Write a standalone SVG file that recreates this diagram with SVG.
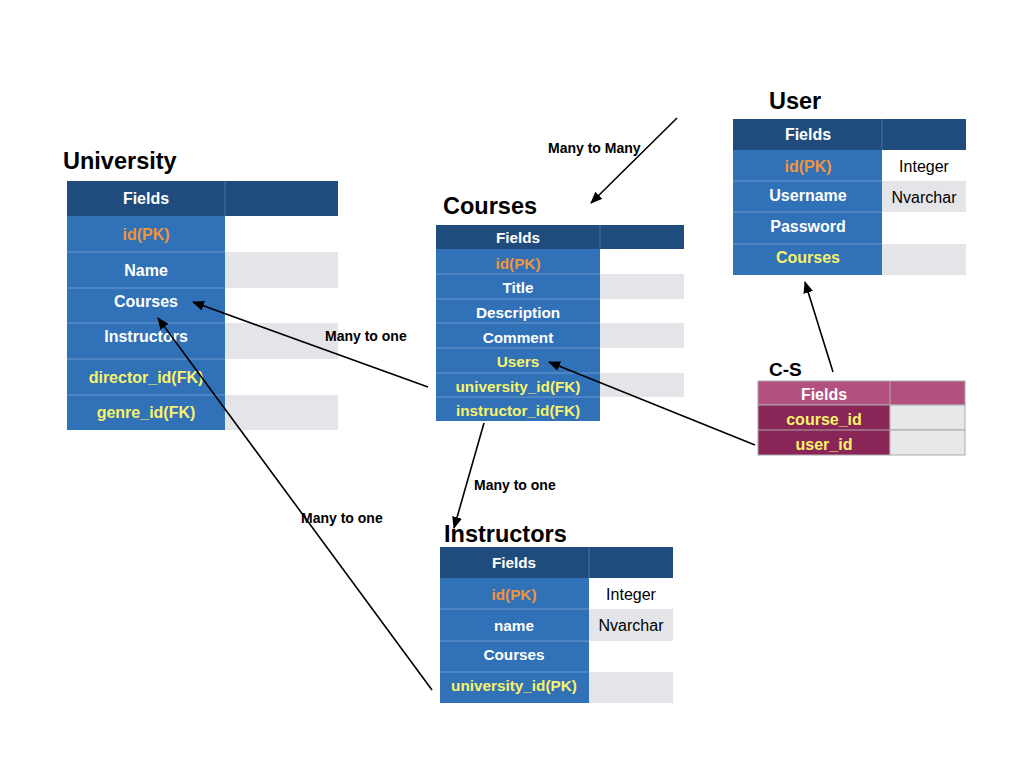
<svg xmlns="http://www.w3.org/2000/svg" width="1024" height="768" viewBox="0 0 1024 768">
<defs>
<marker id="ah" markerWidth="12" markerHeight="10" refX="11" refY="5" orient="auto" markerUnits="userSpaceOnUse">
<path d="M0,0 L12,5 L0,10 Z" fill="#000"/>
</marker>
<style>
.hd{fill:#1f4c7d}
.bd{fill:#3071b7}
.w{fill:#ffffff}
.g{fill:#e4e5e9}
.sep{stroke:#6a9bd0;stroke-width:1}
.hsep{stroke:#4a74a4;stroke-width:1}
.t{font-family:"Liberation Sans",Arial,sans-serif;font-weight:bold;fill:#ffffff;text-anchor:middle;font-size:16px}
.s{font-size:15.3px}
.y{fill:#f7f36b}
.o{fill:#f0953a}
.d{font-family:"Liberation Sans",Arial,sans-serif;fill:#000;text-anchor:middle;font-size:16px}
.title{font-family:"Liberation Sans",Arial,sans-serif;font-weight:bold;fill:#000;font-size:23.5px}
.lbl{font-family:"Liberation Sans",Arial,sans-serif;font-weight:bold;fill:#000;font-size:14px}
.ln{stroke:#000;stroke-width:1.6;fill:none;marker-end:url(#ah)}
.phd{fill:#b3507f}
.pbd{fill:#8a2558}
.pg{fill:#e8e8e8;stroke:#aaaaaa;stroke-width:1}
</style>
</defs>

<g id="university">
<text class="title" x="63" y="169">University</text>
<rect class="hd" x="67" y="181" width="271" height="35"/>
<line class="hsep" x1="225" y1="181" x2="225" y2="216"/>
<rect class="bd" x="67" y="216" width="158" height="214"/>
<rect class="w" x="225" y="216" width="113" height="36"/>
<rect class="g" x="225" y="252" width="113" height="36"/>
<rect class="w" x="225" y="288" width="113" height="35"/>
<rect class="g" x="225" y="323" width="113" height="36"/>
<rect class="w" x="225" y="359" width="113" height="36"/>
<rect class="g" x="225" y="395" width="113" height="35"/>
<line class="sep" x1="67" y1="252" x2="225" y2="252"/>
<line class="sep" x1="67" y1="288" x2="225" y2="288"/>
<line class="sep" x1="67" y1="323" x2="225" y2="323"/>
<line class="sep" x1="67" y1="359" x2="225" y2="359"/>
<line class="sep" x1="67" y1="395" x2="225" y2="395"/>
<text class="t" x="146" y="204">Fields</text>
<text class="t o" x="146" y="240">id(PK)</text>
<text class="t" x="146" y="276">Name</text>
<text class="t" x="146" y="307">Courses</text>
<text class="t" x="146" y="342">Instructors</text>
<text class="t y" x="146" y="383">director_id(FK)</text>
<text class="t y" x="146" y="418">genre_id(FK)</text>
</g>

<g id="courses">
<text class="title" x="443" y="214">Courses</text>
<rect class="hd" x="436" y="225" width="248" height="24"/>
<line class="hsep" x1="600" y1="225" x2="600" y2="249"/>
<rect class="bd" x="436" y="249" width="164" height="172"/>
<rect class="w" x="600" y="249" width="84" height="25"/>
<rect class="g" x="600" y="274" width="84" height="25"/>
<rect class="w" x="600" y="299" width="84" height="24"/>
<rect class="g" x="600" y="323" width="84" height="25"/>
<rect class="w" x="600" y="348" width="84" height="25"/>
<rect class="g" x="600" y="373" width="84" height="24"/>
<line class="sep" x1="436" y1="274" x2="600" y2="274"/>
<line class="sep" x1="436" y1="299" x2="600" y2="299"/>
<line class="sep" x1="436" y1="323" x2="600" y2="323"/>
<line class="sep" x1="436" y1="348" x2="600" y2="348"/>
<line class="sep" x1="436" y1="373" x2="600" y2="373"/>
<line class="sep" x1="436" y1="397" x2="600" y2="397"/>
<text class="t s" x="518" y="243">Fields</text>
<text class="t s o" x="518" y="269">id(PK)</text>
<text class="t s" x="518" y="293">Title</text>
<text class="t s" x="518" y="318">Description</text>
<text class="t s" x="518" y="343">Comment</text>
<text class="t s y" x="518" y="367">Users</text>
<text class="t s y" x="518" y="392">university_id(FK)</text>
<text class="t s y" x="518" y="416">instructor_id(FK)</text>
</g>

<g id="user">
<text class="title" x="769" y="109">User</text>
<rect class="hd" x="733" y="119" width="233" height="31"/>
<line class="hsep" x1="882" y1="119" x2="882" y2="150"/>
<rect class="bd" x="733" y="150" width="149" height="125"/>
<rect class="w" x="882" y="150" width="84" height="31"/>
<rect class="g" x="882" y="181" width="84" height="31"/>
<rect class="w" x="882" y="212" width="84" height="32"/>
<rect class="g" x="882" y="244" width="84" height="31"/>
<line class="sep" x1="733" y1="181" x2="882" y2="181"/>
<line class="sep" x1="733" y1="212" x2="882" y2="212"/>
<line class="sep" x1="733" y1="244" x2="882" y2="244"/>
<text class="t" x="808" y="140">Fields</text>
<text class="t o" x="808" y="172">id(PK)</text>
<text class="d" x="924" y="172">Integer</text>
<text class="t" x="808" y="201">Username</text>
<text class="d" x="924" y="203">Nvarchar</text>
<text class="t" x="808" y="232">Password</text>
<text class="t y" x="808" y="263">Courses</text>
</g>

<g id="cs">
<text class="title" x="769" y="376" style="font-size:19px">C-S</text>
<rect class="phd" x="758" y="381" width="207" height="24" stroke="#aaaaaa" stroke-width="1"/>
<line x1="890" y1="381" x2="890" y2="405" stroke="#aaaaaa"/>
<rect class="pbd" x="758" y="405" width="132" height="50" stroke="#aaaaaa" stroke-width="1"/>
<line x1="758" y1="430" x2="890" y2="430" stroke="#aaaaaa"/>
<rect class="pg" x="890" y="405" width="75" height="25"/>
<rect class="pg" x="890" y="430" width="75" height="25"/>
<text class="t" x="824" y="400">Fields</text>
<text class="t y" x="824" y="425">course_id</text>
<text class="t y" x="824" y="450">user_id</text>
</g>

<g id="instructors">
<text class="title" x="444" y="542">Instructors</text>
<rect class="hd" x="440" y="547" width="233" height="31"/>
<line class="hsep" x1="589" y1="547" x2="589" y2="578"/>
<rect class="bd" x="440" y="578" width="149" height="125"/>
<rect class="w" x="589" y="578" width="84" height="31"/>
<rect class="g" x="589" y="609" width="84" height="32"/>
<rect class="w" x="589" y="641" width="84" height="31"/>
<rect class="g" x="589" y="672" width="84" height="31"/>
<line class="sep" x1="440" y1="609" x2="589" y2="609"/>
<line class="sep" x1="440" y1="641" x2="589" y2="641"/>
<line class="sep" x1="440" y1="672" x2="589" y2="672"/>
<text class="t s" x="514" y="568">Fields</text>
<text class="t s o" x="514" y="600">id(PK)</text>
<text class="d" x="631" y="600">Integer</text>
<text class="t s" x="514" y="631">name</text>
<text class="d" x="631" y="631">Nvarchar</text>
<text class="t s" x="514" y="660">Courses</text>
<text class="t s y" x="514" y="691">university_id(PK)</text>
</g>

<g id="connectors">
<line class="ln" x1="677" y1="118" x2="591" y2="203"/>
<line class="ln" x1="428" y1="387" x2="193" y2="302"/>
<line class="ln" x1="432" y1="690" x2="158" y2="318"/>
<line class="ln" x1="484" y1="423" x2="454" y2="528"/>
<line class="ln" x1="755" y1="445" x2="549" y2="362"/>
<line class="ln" x1="833" y1="372" x2="805" y2="282"/>
<text class="lbl" x="548" y="153">Many to Many</text>
<text class="lbl" x="325" y="341">Many to one</text>
<text class="lbl" x="301" y="523">Many to one</text>
<text class="lbl" x="474" y="490">Many to one</text>
</g>
</svg>
